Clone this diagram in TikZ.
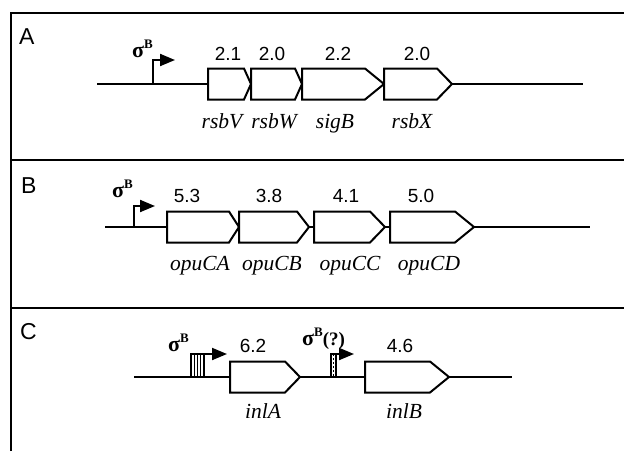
\documentclass[tikz,border=0pt]{standalone}
\usepackage{fontspec}
\setmainfont{Liberation Serif}
\setsansfont{Liberation Sans}
\usetikzlibrary{arrows.meta}
\newcommand\genebox[5]{% name, x-left, x-shoulder, x-tip, y-centre
  \draw[gene] (#2,#5-15.5) -- (#3,#5-15.5) -- (#4,#5) -- (#3,#5+15.5) -- (#2,#5+15.5) -- cycle;
  \coordinate (#1-w) at (#2,#5);
  \coordinate (#1-e) at (#4,#5);}
\begin{document}
\begin{tikzpicture}[x=1pt,y=-1pt,
  frame/.style={line width=2pt},
  backbone/.style={line width=2pt},
  gene/.style={line width=2pt, fill=white, line join=miter},
  num/.style={inner sep=0pt, font=\sffamily\fontsize{19}{19}\selectfont},
  gname/.style={inner sep=0pt, anchor=base, font=\itshape\fontsize{21.5}{21.5}\selectfont},
  panel/.style={inner sep=0pt, anchor=base west, font=\sffamily\fontsize{23}{23}\selectfont},
  sig/.style={inner sep=0pt, anchor=base west, font=\bfseries\fontsize{22}{22}\selectfont},
  prom/.style={line width=2pt, line join=miter, -{Triangle[length=15pt,width=12pt]}},
  hatch/.style={line width=1.4pt}
]
\useasboundingbox (0,0) rectangle (624,451);
% frame
\draw[frame] (11,451) -- (11,13) -- (624,13);
\draw[frame] (11,160) -- (624,160);
\draw[frame] (11,308) -- (624,308);

% ---------------- Panel A
\node[panel] (la) at (19,44) {A};
\coordinate (a0) at (97,84);
\coordinate (a1) at (583,84);
\genebox{rsbV}{208}{244}{251}{84}
\genebox{rsbW}{251}{295}{302}{84}
\genebox{sigB}{302}{365}{384}{84}
\genebox{rsbX}{384}{437}{452}{84}
\draw[backbone] (a0) -- (rsbV-w);
\draw[backbone] (rsbX-e) -- (a1);
\coordinate (pa) at (153,84);
\coordinate (pa-t) at (175,60);
\draw[prom] (pa) |- (pa-t);
\node[sig] (sa) at (132,57) {σ\raisebox{8.5pt}{\fontsize{13}{13}\selectfont B}};
\node[num] (nA1) at (228,54) {2.1};
\node[num] (nA2) at (272,54) {2.0};
\node[num] (nA3) at (338,54) {2.2};
\node[num] (nA4) at (417,54) {2.0};
\node[gname] (gA1) at (222,128) {rsbV};
\node[gname] (gA2) at (274,128) {rsbW};
\node[gname] (gA3) at (335,128) {sigB};
\node[gname] (gA4) at (412,128) {rsbX};

% ---------------- Panel B
\node[panel] (lb) at (21,193) {B};
\coordinate (b0) at (105,227);
\coordinate (b1) at (590,227);
\genebox{opuCA}{167}{229}{239}{227}
\genebox{opuCB}{239}{297}{309}{227}
\genebox{opuCC}{314}{370}{385}{227}
\genebox{opuCD}{390}{455}{474}{227}
\draw[backbone] (b0) -- (opuCA-w);
\draw[backbone] (opuCB-e) -- (opuCC-w);
\draw[backbone] (opuCC-e) -- (opuCD-w);
\draw[backbone] (opuCD-e) -- (b1);
\coordinate (pb) at (134,227);
\coordinate (pb-t) at (155,206);
\draw[prom] (pb) |- (pb-t);
\node[sig] (sb) at (112,197) {σ\raisebox{8.5pt}{\fontsize{13}{13}\selectfont B}};
\node[num] (nB1) at (187,196) {5.3};
\node[num] (nB2) at (269,196) {3.8};
\node[num] (nB3) at (346,196) {4.1};
\node[num] (nB4) at (421,196) {5.0};
\node[gname] (gB1) at (200,270) {opuCA};
\node[gname] (gB2) at (272,270) {opuCB};
\node[gname] (gB3) at (350,270) {opuCC};
\node[gname] (gB4) at (429,270) {opuCD};

% ---------------- Panel C
\node[panel] (lc) at (20,339) {C};
\coordinate (c0) at (134,377);
\coordinate (c1) at (512,377);
\genebox{inlA}{230}{285}{300}{377}
\genebox{inlB}{365}{430}{449}{377}
\draw[backbone] (c0) -- (inlA-w);
\draw[backbone] (inlA-e) -- (inlB-w);
\draw[backbone] (inlB-e) -- (c1);
% promoter 1 (hatched box)
\draw[hatch] (191,377) rectangle (204,354);
\draw[line width=1pt] (194.3,377) -- (194.3,354) (197.5,377) -- (197.5,354) (200.7,377) -- (200.7,354);
\coordinate (pc1) at (204,354);
\coordinate (pc1-t) at (227,354);
\draw[prom] (pc1) -- (pc1-t);
\node[sig] (sc1) at (168,351) {σ\raisebox{8.5pt}{\fontsize{13}{13}\selectfont B}};
% promoter 2 (dashed bar)
\draw[line width=1.4pt] (331,377) rectangle (336,354);
\draw[line width=0.9pt, dash pattern=on 2pt off 2pt] (333.5,376) -- (333.5,355);
\coordinate (pc2) at (336,354);
\coordinate (pc2-t) at (354,354);
\draw[prom] (pc2) -- (pc2-t);
\node[sig] (sc2) at (302,345) {σ\raisebox{8.5pt}{\fontsize{13}{13}\selectfont B}\fontsize{19}{19}\selectfont(?)};
\node[num] (nC1) at (253,346) {6.2};
\node[num] (nC2) at (400,346) {4.6};
\node[gname] (gC1) at (263,418) {inlA};
\node[gname] (gC2) at (404,418) {inlB};
\end{tikzpicture}
\end{document}
